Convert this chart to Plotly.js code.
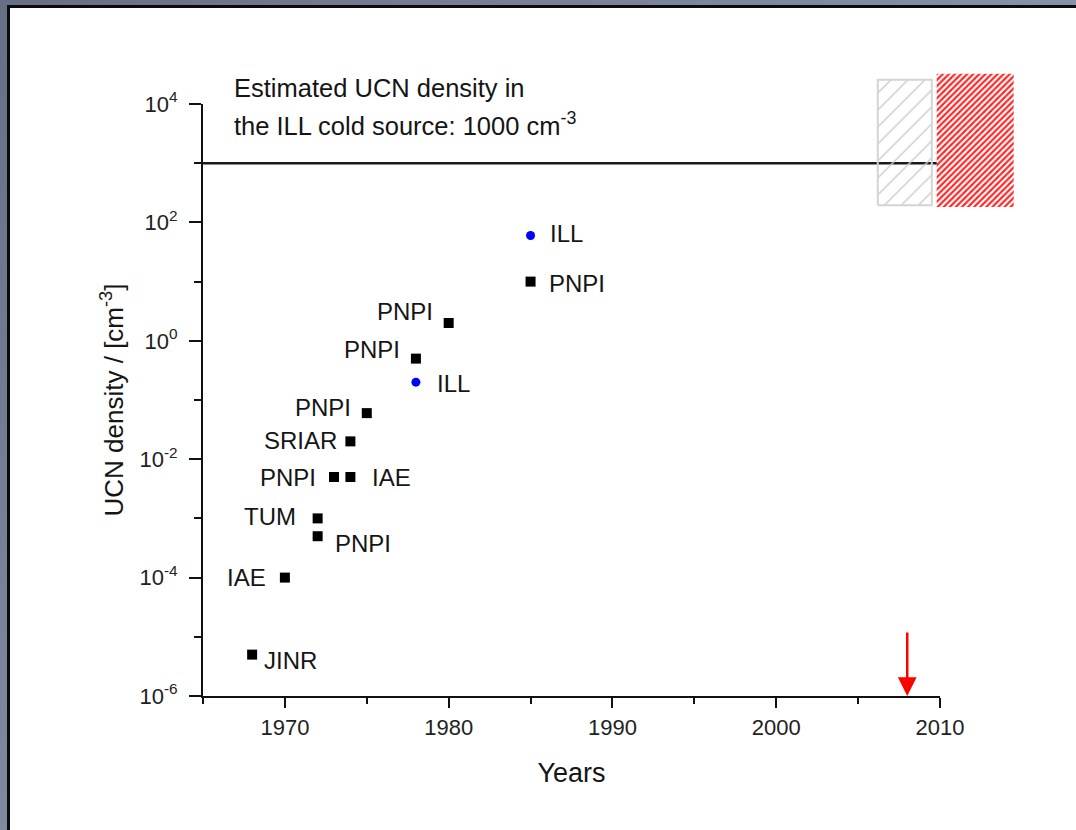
<!DOCTYPE html>
<html>
<head>
<meta charset="utf-8">
<script src="https://cdn.plot.ly/plotly-3.0.1.min.js"></script>
<style>
  html, body { margin: 0; padding: 0; }
  body {
    width: 1076px; height: 830px; overflow: hidden; position: relative;
    background: linear-gradient(135deg, #676f84 0%, #8690a8 55%, #a3aec8 100%);
  }
  #sheet {
    position: absolute; left: 7px; top: 5px; width: 1200px; height: 1000px;
    background: #ffffff; border-left: 3px solid #0b0b0b; border-top: 3px solid #0b0b0b;
  }
  #chart { position: absolute; left: 0; top: 0; width: 1076px; height: 830px; }
</style>
</head>
<body>
<div id="sheet"></div>
<div id="chart"></div>
<script>
// UCN sources: black squares
const srcYears     = [1968, 1970, 1972, 1972, 1973, 1974, 1974, 1975, 1978, 1980, 1985];
const srcDensity   = [5e-6, 1e-4, 5e-4, 1e-3, 5e-3, 5e-3, 2e-2, 6e-2, 0.5, 2, 10];
const srcLabels    = ['JINR', 'IAE', 'PNPI', 'TUM', 'PNPI', 'IAE', 'SRIAR', 'PNPI', 'PNPI', 'PNPI', 'PNPI'];

// ILL sources: blue dots
const illYears     = [1978, 1985];
const illDensity   = [0.2, 60];
const illLabels    = ['ILL', 'ILL'];

// cold-source reference level
const coldSourceDensity = 1000;
const coldSourceYears   = [1965, 2010];

// hatched bands at the right edge
const greyBandYears   = [2006.2, 2009.5];
const greyBandDensity = [195, 25700];
const redBandYears    = [2009.8, 2014.5];
const redBandDensity  = [182, 32400];

// marker for the present year
const nowYear = 2008;

// axis ticks
const xMajor = [1970, 1980, 1990, 2000, 2010];
const xMinor = [1965, 1975, 1985, 1995, 2005];
const yMajorExp = [-6, -4, -2, 0, 2, 4];
const yMinorExp = [-5, -3, -1, 1, 3];

// label placement around each marker (pixels): anchor side, dx, dy
const srcLabelSide = ['left', 'right', 'left', 'right', 'right', 'left', 'right', 'right', 'right', 'right', 'left'];
const srcLabelDx   = [10, -17, 15, -20, -16, 20, -11, -14, -14, -14, 16];
const srcLabelDy   = [-6, 0, -7, 2, 0, 0, 1, 6, 9, 11, -2];
const illLabelSide = ['left', 'left'];
const illLabelDx   = [19, 17];
const illLabelDy   = [-1, 2];

const FONT = 'Liberation Sans, Arial, sans-serif';
const INK = '#151515';

// plot frame in pixels
const W = 1076, H = 830;
const plotL = 203, plotR = 1015, plotT = 72, plotB = 696;
const axisRightPx = 940, axisTopPx = 104;
const xDomEnd = (axisRightPx - plotL) / (plotR - plotL);
const yDomEnd = (plotB - axisTopPx) / (plotB - plotT);
const xRange = [1965, 2010];
const yRange = [-6, 4];
const x2Range = [xRange[0], xRange[0] + (xRange[1] - xRange[0]) / xDomEnd];
const y2Range = [yRange[0], yRange[0] + (yRange[1] - yRange[0]) / yDomEnd];

function rectTrace(xs, ys) {
  return {
    x: [xs[0], xs[1], xs[1], xs[0], xs[0]],
    y: [ys[0], ys[0], ys[1], ys[1], ys[0]]
  };
}

const greyRect = rectTrace(greyBandYears, greyBandDensity);
const redRect = rectTrace(redBandYears, redBandDensity);

const traces = [
  {
    type: 'scatter', mode: 'lines', xaxis: 'x2', yaxis: 'y2',
    x: greyRect.x, y: greyRect.y, fill: 'toself',
    fillcolor: 'rgba(0,0,0,0)',
    fillpattern: { shape: '/', fgcolor: '#cdcdcd', bgcolor: 'rgba(0,0,0,0)', size: 12, solidity: 0.12 },
    line: { color: '#d4d4d4', width: 2 },
    hoverinfo: 'skip', showlegend: false
  },
  {
    type: 'scatter', mode: 'lines', xaxis: 'x2', yaxis: 'y2',
    x: redRect.x, y: redRect.y, fill: 'toself',
    fillcolor: '#ffffff',
    fillpattern: { shape: '/', fgcolor: '#ff2424', bgcolor: '#ffffff', size: 4.3, solidity: 0.5 },
    line: { color: 'rgba(0,0,0,0)', width: 0 },
    hoverinfo: 'skip', showlegend: false
  },
  {
    type: 'scatter', mode: 'lines',
    x: coldSourceYears, y: coldSourceYears.map(() => coldSourceDensity),
    line: { color: '#1a1a1a', width: 2.5 },
    hoverinfo: 'skip', showlegend: false
  },
  {
    type: 'scatter', mode: 'markers',
    x: srcYears, y: srcDensity, text: srcLabels,
    marker: { symbol: 'square', size: 10, color: '#000000' },
    showlegend: false, cliponaxis: false
  },
  {
    type: 'scatter', mode: 'markers',
    x: illYears, y: illDensity, text: illLabels,
    marker: { symbol: 'circle', size: 9, color: '#0000ff' },
    showlegend: false, cliponaxis: false
  }
];

const annotations = [];
function addLabels(xs, ys, labels, side, dx, dy) {
  xs.forEach((x, i) => {
    annotations.push({
      x: x, y: Math.log10(ys[i]), xref: 'x', yref: 'y',
      text: labels[i], showarrow: false,
      xanchor: side[i], yanchor: 'middle',
      xshift: dx[i], yshift: dy[i],
      font: { family: FONT, size: 24, color: INK }
    });
  });
}
addLabels(srcYears, srcDensity, srcLabels, srcLabelSide, srcLabelDx, srcLabelDy);
addLabels(illYears, illDensity, illLabels, illLabelSide, illLabelDx, illLabelDy);

annotations.push(
  {
    xref: 'paper', yref: 'paper', x: (232 - plotL) / (plotR - plotL), y: (plotB - 88) / (plotB - plotT),
    xanchor: 'left', yanchor: 'middle', showarrow: false,
    text: 'Estimated UCN density in',
    font: { family: FONT, size: 25.5, color: INK }
  },
  {
    xref: 'paper', yref: 'paper', x: (232 - plotL) / (plotR - plotL), y: (plotB - 124) / (plotB - plotT),
    xanchor: 'left', yanchor: 'middle', showarrow: false,
    text: 'the ILL cold source: ' + coldSourceDensity + ' cm<sup>-3</sup>',
    font: { family: FONT, size: 25.5, color: INK }
  },
  {
    x: nowYear, y: yRange[0], xref: 'x', yref: 'y',
    ax: nowYear, ay: -4.9, axref: 'x', ayref: 'y',
    text: '', showarrow: true, arrowhead: 2, arrowsize: 1.5, arrowwidth: 2.5,
    arrowcolor: '#ff0000', standoff: 0
  }
);

const layout = {
  width: W, height: H,
  margin: { l: plotL, r: W - plotR, t: plotT, b: H - plotB, pad: 0 },
  paper_bgcolor: 'rgba(0,0,0,0)',
  plot_bgcolor: 'rgba(0,0,0,0)',
  showlegend: false,
  font: { family: FONT, color: INK },
  xaxis: {
    domain: [0, xDomEnd], range: xRange, anchor: 'y',
    showgrid: false, zeroline: false,
    showline: true, linecolor: '#111', linewidth: 2,
    ticks: 'outside', ticklen: 10, tickwidth: 2, tickcolor: '#111',
    tickmode: 'array', tickvals: xMajor, ticktext: xMajor.map(String),
    minor: { tickmode: 'array', tickvals: xMinor, ticks: 'outside', ticklen: 6, tickwidth: 2, tickcolor: '#111', showgrid: false },
    tickfont: { family: FONT, size: 22, color: '#222' },
    ticklabelstandoff: 1,
    title: { text: 'Years', font: { family: FONT, size: 27, color: INK }, standoff: 24 },
    automargin: false
  },
  yaxis: {
    domain: [0, yDomEnd], type: 'log', range: yRange, anchor: 'x',
    showgrid: false, zeroline: false,
    showline: true, linecolor: '#111', linewidth: 2,
    ticks: 'outside', ticklen: 12, tickwidth: 2, tickcolor: '#111',
    tickmode: 'array',
    tickvals: yMajorExp.map(e => Math.pow(10, e)),
    ticktext: yMajorExp.map(e => '10<sup>' + e + '</sup>'),
    minor: { tickmode: 'array', tickvals: yMinorExp.map(e => Math.pow(10, e)), ticks: 'outside', ticklen: 7, tickwidth: 2, tickcolor: '#111', showgrid: false },
    tickfont: { family: FONT, size: 22, color: '#222' },
    ticklabelstandoff: 7,
    title: { text: 'UCN density / [cm<sup>-3</sup>]', font: { family: FONT, size: 26, color: INK }, standoff: 8 },
    automargin: false
  },
  xaxis2: { domain: [0, 1], range: x2Range, anchor: 'y2', visible: false, showgrid: false, zeroline: false },
  yaxis2: { domain: [0, 1], type: 'log', range: y2Range, anchor: 'x2', visible: false, showgrid: false, zeroline: false },
  annotations: annotations
};

Plotly.newPlot('chart', traces, layout, { displayModeBar: false, staticPlot: true });
</script>
</body>
</html>
